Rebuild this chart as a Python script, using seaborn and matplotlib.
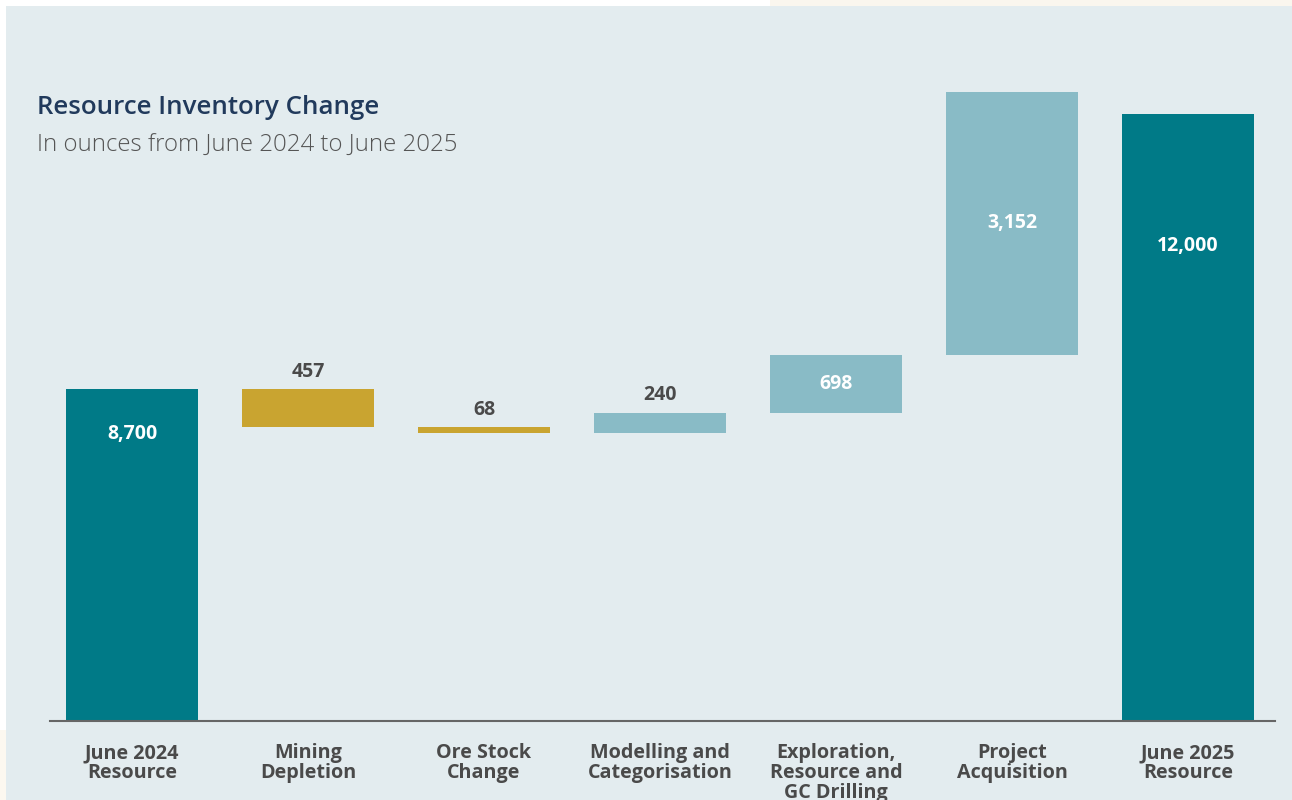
import matplotlib
matplotlib.use("Agg")
import matplotlib.pyplot as plt
from matplotlib.patches import Rectangle
import numpy as np
import pandas as pd
import seaborn as sns

# Waterfall steps (ounces, thousands as shown)
categories = [
    "June 2024\nResource",
    "Mining\nDepletion",
    "Ore Stock\nChange",
    "Modelling and\nCategorisation",
    "Exploration,\nResource and\nGC Drilling",
    "Project\nAcquisition",
    "June 2025\nResource",
]
kinds = ["total", "decrease", "decrease", "increase", "increase", "increase", "total"]
values = [8700, 457, 68, 240, 698, 3152, 12000]
value_labels = ["8,700", "457", "68", "240", "698", "3,152", "12,000"]

title = "Resource Inventory Change"
subtitle = "In ounces from June 2024 to June 2025"

palette = {"total": "#007A87", "decrease": "#C9A430", "increase": "#89BBC6"}
PANEL = "#E3ECEF"
TEXT_DARK = "#4A4A4A"

# Running totals -> floating bar bottoms and signed heights
bottoms, heights = [], []
running = 0
for kind, v in zip(kinds, values):
    if kind == "total":
        bottoms.append(0)
        heights.append(v)
        running = v
    elif kind == "decrease":
        bottoms.append(running)
        heights.append(-v)
        running -= v
    else:
        bottoms.append(running)
        heights.append(v)
        running += v
tops = [b + h for b, h in zip(bottoms, heights)]

sns.set_theme(style="white")
plt.rcParams["font.family"] = ["Open Sans", "DejaVu Sans"]

W, H = 1292, 800
fig = plt.figure(figsize=(W / 100, H / 100), dpi=100, facecolor="white")

# Background panel and the thin cream border strips
fig.patches.append(Rectangle((6 / W, 0), 1, 1 - 6 / H, transform=fig.transFigure,
                             facecolor=PANEL, edgecolor="none", zorder=-10))
fig.patches.append(Rectangle((770 / W, 1 - 6 / H), 1, 6 / H, transform=fig.transFigure,
                             facecolor="#FAF6EE", edgecolor="none", zorder=-10))
fig.patches.append(Rectangle((0, 0), 6 / W, 70 / H, transform=fig.transFigure,
                             facecolor="#FCF8F0", edgecolor="none", zorder=-10))

# Axes in pixel terms: baseline at y=721, left 50 .. right 1275
ax_left, ax_right, ax_bottom, ax_top = 50, 1275, 721, 80
ax = fig.add_axes([ax_left / W, 1 - ax_bottom / H, (ax_right - ax_left) / W,
                   (ax_bottom - ax_top) / H])
ax.set_facecolor("none")

df = pd.DataFrame({"step": categories, "change": heights})
sns.barplot(data=df, x="step", y="change", bottom=bottoms, width=0.75,
            errorbar=None, color=palette["total"], saturation=1,
            linewidth=0, ax=ax)
for patch, kind in zip(ax.patches, kinds):
    patch.set_facecolor(palette[kind])
    patch.set_edgecolor("none")

# Value axis is truncated so the floating steps stay readable
per_px = 12.0
y0 = values[0] - (ax_bottom - 389) * per_px
ax.set_ylim(y0, y0 + (ax_bottom - ax_top) * per_px)
step = 176
ax.set_xlim(-(132 - ax_left) / step, -(132 - ax_left) / step + (ax_right - ax_left) / step)

# Value labels
label_kw = dict(fontsize=14, fontweight="bold")
for i, (kind, lab) in enumerate(zip(kinds, value_labels)):
    lo, hi = sorted((bottoms[i], tops[i]))
    if kind == "total":
        drop = -32.5 if i == 0 else -95
        ax.annotate(lab, (i, hi), xytext=(0, drop), textcoords="offset points",
                    ha="center", va="center", color="white", **label_kw)
    elif (hi - lo) < 600:
        ax.annotate(lab, (i, hi), xytext=(0, 12.5), textcoords="offset points",
                    ha="center", va="center", color=TEXT_DARK, **label_kw)
    else:
        ax.text(i, (lo + hi) / 2, lab, ha="center", va="center", color="white",
                **label_kw)

# Axes styling
for side in ["left", "right", "top"]:
    ax.spines[side].set_visible(False)
ax.spines["bottom"].set_color("#666666")
ax.spines["bottom"].set_linewidth(1.5)
ax.set_yticks([])
ax.set_xlabel("")
ax.set_ylabel("")
ax.tick_params(axis="x", length=0, pad=16)
ax.set_xticks(range(len(categories)))
ax.set_xticklabels(categories, fontsize=14.2, fontweight="bold", color=TEXT_DARK,
                   linespacing=1.0, va="top")

# Titles
fig.text(37 / W, 1 - 114 / H, title, ha="left", va="baseline",
         fontsize=18.6, fontweight="semibold", color="#213A5C")
fig.text(37 / W, 1 - 152 / H, subtitle, ha="left", va="baseline",
         fontsize=17.3, fontweight="light", color="#555555")

fig.savefig("out.png", dpi=100, facecolor=fig.get_facecolor())
